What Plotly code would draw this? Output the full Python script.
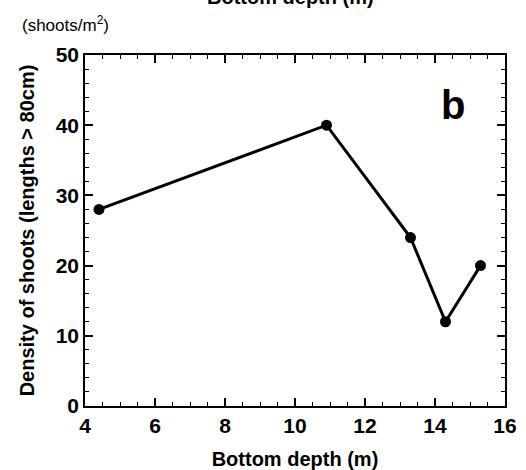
import plotly.graph_objects as go

depth = [4.4, 10.9, 13.3, 14.3, 15.3]
density = [28, 40, 24, 12, 20]

x_ticks = [4, 6, 8, 10, 12, 14, 16]
y_ticks = [0, 10, 20, 30, 40, 50]

FONT = "Liberation Sans"

fig = go.Figure()
fig.add_trace(go.Scatter(
    x=depth, y=density, mode="lines+markers",
    line=dict(color="black", width=3),
    marker=dict(color="black", size=11),
    showlegend=False, cliponaxis=False,
))

axis_common = dict(
    showgrid=False, zeroline=False, showline=True, linecolor="black", linewidth=1.5,
    mirror="ticks", ticks="inside", tickcolor="black", tickwidth=1.5, ticklen=8,
    automargin=False,
    tickfont=dict(family=FONT, size=21, color="black", weight="bold"),
)

fig.update_layout(
    width=526, height=470,
    margin=dict(l=85, r=21, t=55, b=64),
    paper_bgcolor="white", plot_bgcolor="white",
    xaxis=dict(range=[4, 16], tickvals=x_ticks,
               minor=dict(dtick=0.5, ticks="inside", ticklen=4, tickcolor="black", tickwidth=1),
               title=dict(text="Bottom depth (m)", standoff=18,
                          font=dict(family=FONT, size=20, color="black", weight="bold")),
               **axis_common),
    yaxis=dict(range=[0, 50], tickvals=y_ticks,
               minor=dict(dtick=2, ticks="inside", ticklen=4, tickcolor="black", tickwidth=1),
               title=dict(text="Density of shoots (lengths > 80cm)", standoff=16,
                          font=dict(family=FONT, size=20, color="black", weight="bold")),
               **axis_common),
)

fig.add_annotation(text="(shoots/m<sup>2</sup>)", xref="paper", yref="paper",
                   x=-0.155, y=1.0, yshift=31, xanchor="left", yanchor="middle",
                   showarrow=False, font=dict(family=FONT, size=17, color="black"))
fig.add_annotation(text="b", xref="paper", yref="paper",
                   x=0.877, y=1.0, yshift=-50, xanchor="center", yanchor="middle",
                   showarrow=False, font=dict(family=FONT, size=40, color="black", weight="bold"))
fig.add_annotation(text="Bottom depth (m)", xref="paper", yref="paper",
                   x=0.49, y=1.0, yshift=58, xanchor="center", yanchor="middle",
                   showarrow=False, font=dict(family=FONT, size=20, color="black", weight="bold"))

fig.write_html("out.html")
